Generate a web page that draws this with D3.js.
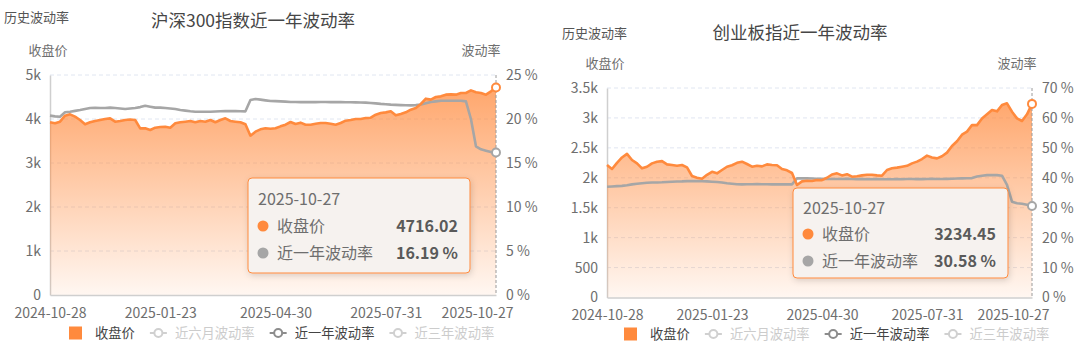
<!DOCTYPE html>
<html lang="zh">
<head>
<meta charset="UTF-8">
<title>历史波动率</title>
<style>
  body { margin: 0; background: #fff; }
  text { font-family: "Noto Sans CJK SC", "Noto Sans", sans-serif; }
</style>
</head>
<body>
<script src="https://d3js.org/d3.v7.min.js"></script>
<div id="chart"></div>
<script>
// x axis labels (both charts)
const tickLabels = ['2024-10-28', '2025-01-23', '2025-04-30', '2025-07-31', '2025-10-27']
const legendNames = ['收盘价', '近六月波动率', '近一年波动率', '近三年波动率']

// 沪深300 收盘价 / 近一年波动率 (%)
const hs300Close = [3925, 3902, 3939, 4075, 4106, 4053, 3977, 3879, 3925, 3955,
  3977, 4000, 4015, 3939, 3955, 3977, 3990, 3977, 3788, 3788,
  3750, 3803, 3818, 3825, 3803, 3902, 3925, 3939, 3955, 3925,
  3955, 3939, 3977, 3925, 3977, 4015, 3955, 3939, 3925, 3879,
  3621, 3712, 3765, 3788, 3780, 3788, 3833, 3871, 3932, 3886,
  3917, 3871, 3871, 3894, 3909, 3909, 3894, 3871, 3909, 3962,
  3977, 4000, 4000, 4023, 4030, 4098, 4136, 4151, 4174, 4083,
  4113, 4151, 4212, 4250, 4341, 4462, 4440, 4500, 4515, 4553,
  4560, 4553, 4591, 4591, 4650, 4606, 4590, 4553, 4629, 4716.02]
const hs300Vol = [20.38, 20.30, 20.26, 20.76, 20.83, 20.92, 21.02, 21.14, 21.25, 21.27,
  21.25, 21.25, 21.29, 21.25, 21.20, 21.14, 21.20, 21.25, 21.35, 21.51,
  21.40, 21.29, 21.29, 21.25, 21.20, 21.14, 21.02, 20.95, 20.88, 20.83,
  20.83, 20.83, 20.83, 20.86, 20.88, 20.90, 20.90, 20.90, 20.88, 20.87,
  22.16, 22.27, 22.20, 22.12, 22.05, 22.03, 22.00, 21.97, 21.93, 21.93,
  21.92, 21.93, 21.92, 21.92, 21.93, 21.93, 21.92, 21.93, 21.92, 21.90,
  21.90, 21.89, 21.88, 21.86, 21.82, 21.78, 21.72, 21.68, 21.63, 21.60,
  21.58, 21.56, 21.55, 21.58, 21.65, 21.80, 21.93, 22.00, 22.08, 22.08,
  22.08, 22.08, 22.08, 22.00, 20.00, 16.90, 16.55, 16.40, 16.24, 16.19]

// 创业板指 收盘价 / 近一年波动率 (%)
const cybClose = [2213, 2147, 2250, 2340, 2400, 2297, 2241, 2158, 2185, 2241,
  2269, 2278, 2224, 2213, 2202, 2213, 2174, 2030, 2002, 1985,
  2050, 2100, 2074, 2130, 2185, 2210, 2250, 2269, 2230, 2185,
  2200, 2190, 2224, 2213, 2210, 2147, 2125, 2080, 1880, 1940,
  1950, 1946, 1963, 1960, 2000, 2055, 2074, 2040, 2060, 2018,
  2025, 2040, 2050, 2050, 2040, 2035, 2130, 2158, 2170, 2185,
  2200, 2241, 2270, 2313, 2370, 2340, 2324, 2360, 2420, 2530,
  2610, 2720, 2771, 2882, 2880, 2990, 3060, 3132, 3110, 3216,
  3244, 3104, 2993, 2949, 3060, 3234.45]
const cybVol = [37.00, 37.10, 37.20, 37.30, 37.50, 37.80, 38.00, 38.20, 38.36, 38.40,
  38.45, 38.50, 38.60, 38.70, 38.75, 38.80, 38.90, 38.90, 38.90, 38.85,
  38.80, 38.70, 38.60, 38.40, 38.15, 38.00, 37.85, 37.80, 37.82, 37.85,
  37.88, 37.85, 37.82, 37.80, 37.80, 37.82, 37.80, 37.80, 39.80, 39.80,
  39.80, 39.75, 39.70, 39.65, 39.60, 39.60, 39.58, 39.60, 39.62, 39.60,
  39.55, 39.55, 39.50, 39.50, 39.55, 39.52, 39.50, 39.50, 39.55, 39.52,
  39.60, 39.58, 39.55, 39.55, 39.60, 39.62, 39.60, 39.60, 39.65, 39.70,
  39.75, 39.80, 39.85, 39.90, 40.40, 40.70, 40.90, 40.90, 40.90, 40.70,
  37.60, 32.00, 31.50, 31.30, 31.00, 30.58]

const ORANGE = '#ff8a3d'
const GREY = '#a6a6a6'
const TEXT = '#6e6e6e'

const svg = d3.select('#chart').append('svg')
  .attr('width', 1080).attr('height', 355)

const defs = svg.append('defs')
defs.append('filter').attr('id', 'shadow')
  .attr('x', '-10%').attr('y', '-10%').attr('width', '130%').attr('height', '140%')
  .append('feDropShadow')
  .attr('dx', 1).attr('dy', 2).attr('stdDeviation', 3)
  .attr('flood-color', '#000').attr('flood-opacity', 0.15)

const kFmt = v => v === 0 ? '0' : (v < 1000 ? String(v) : (v / 1000) + 'k')

function drawChart(c) {
  const g = svg.append('g')

  const x = d3.scaleLinear().domain([0, c.close.length - 1]).range([c.left, c.right])
  const yP = d3.scaleLinear().domain([0, c.priceMax]).range([c.bottom, c.top])
  const yV = d3.scaleLinear().domain([0, c.volMax]).range([c.bottom, c.top])

  const grad = defs.append('linearGradient').attr('id', c.id + 'grad')
    .attr('gradientUnits', 'userSpaceOnUse')
    .attr('x1', 0).attr('x2', 0).attr('y1', c.top).attr('y2', c.bottom)
  grad.append('stop').attr('offset', 0).attr('stop-color', '#ff8a3d').attr('stop-opacity', 0.8)
  grad.append('stop').attr('offset', 1).attr('stop-color', '#ff8a3d').attr('stop-opacity', 0.07)

  // header texts
  g.append('text').attr('x', c.histX).attr('y', c.histY).attr('dy', '0.35em')
    .attr('font-size', 13).attr('fill', '#555').text('历史波动率')
  g.append('text').attr('x', c.titleX).attr('y', c.titleY).attr('dy', '0.35em')
    .attr('text-anchor', 'middle').attr('font-size', 17.5).attr('fill', '#464646').text(c.title)
  g.append('text').attr('x', c.left - 2).attr('y', c.nameY).attr('dy', '0.35em')
    .attr('text-anchor', 'middle').attr('font-size', 13).attr('fill', TEXT).text('收盘价')
  g.append('text').attr('x', c.right - 15).attr('y', c.nameY).attr('dy', '0.35em')
    .attr('text-anchor', 'middle').attr('font-size', 13).attr('fill', TEXT).text('波动率')

  // grid
  const pTicks = d3.range(0, c.priceMax + 1, c.priceStep)
  g.append('g').selectAll('line').data(pTicks.slice(1)).join('line')
    .attr('x1', c.left).attr('x2', c.right)
    .attr('y1', d => yP(d)).attr('y2', d => yP(d))
    .attr('stroke', '#e0e6f1').attr('stroke-dasharray', '4,3')

  // left axis
  const yAxisL = g.append('g').attr('transform', `translate(${c.left},0)`)
    .call(d3.axisLeft(yP).tickValues(pTicks).tickFormat(kFmt).tickSize(0).tickPadding(9))
  yAxisL.select('.domain').attr('stroke', '#cfcfcf').attr('stroke-width', 1.5)
  yAxisL.selectAll('text').attr('font-size', 14).attr('fill', TEXT)

  // right axis
  const vTicks = d3.range(0, c.volMax + 0.001, c.volStep)
  const yAxisR = g.append('g').attr('transform', `translate(${c.right},0)`)
    .call(d3.axisRight(yV).tickValues(vTicks).tickFormat(d => d + ' %').tickSize(0).tickPadding(10))
  yAxisR.select('.domain').remove()
  yAxisR.selectAll('text').attr('font-size', 14).attr('fill', TEXT)

  // area
  g.append('path').datum(c.close)
    .attr('d', d3.area().x((d, i) => x(i)).y0(yP(0)).y1(d => yP(d)))
    .attr('fill', `url(#${c.id}grad)`)

  // bottom axis
  const n = c.close.length - 1
  const tickIdx = tickLabels.map((t, i) => Math.round(i * n / (tickLabels.length - 1)))
  const xAxis = g.append('g').attr('transform', `translate(0,${c.bottom})`)
    .call(d3.axisBottom(x).tickValues(tickIdx).tickFormat((d, i) => tickLabels[i]).tickSize(0).tickPadding(13))
  xAxis.select('.domain').attr('stroke', '#cfcfcf').attr('stroke-width', 1.5)
  xAxis.selectAll('text').attr('font-size', 14).attr('fill', TEXT)
  xAxis.selectAll('.tick:last-of-type text').attr('text-anchor', 'end').attr('dx', 17)

  // axis pointer at last day
  g.append('line').attr('x1', x(n)).attr('x2', x(n)).attr('y1', c.top).attr('y2', c.bottom)
    .attr('stroke', '#9a9a9a').attr('stroke-dasharray', '3,2')

  g.append('path').datum(c.vol)
    .attr('d', d3.line().x((d, i) => x(i)).y(d => yV(d)))
    .attr('fill', 'none').attr('stroke', GREY).attr('stroke-width', 2.6).attr('stroke-linejoin', 'round')
  g.append('path').datum(c.close)
    .attr('d', d3.line().x((d, i) => x(i)).y(d => yP(d)))
    .attr('fill', 'none').attr('stroke', ORANGE).attr('stroke-width', 2.6).attr('stroke-linejoin', 'round')

  g.append('circle').attr('cx', x(n)).attr('cy', yP(c.close[n])).attr('r', 4)
    .attr('fill', '#fff').attr('stroke', ORANGE).attr('stroke-width', 2)
  g.append('circle').attr('cx', x(n)).attr('cy', yV(c.vol[n])).attr('r', 4)
    .attr('fill', '#fff').attr('stroke', GREY).attr('stroke-width', 2)

  // tooltip
  const t = c.tip
  const tip = g.append('g').attr('transform', `translate(${t.x},${t.y})`)
  tip.append('rect').attr('width', t.w).attr('height', t.h).attr('rx', 4)
    .attr('fill', '#f6f2ef').attr('stroke', ORANGE).attr('stroke-width', 1)
    .attr('filter', 'url(#shadow)')
  tip.append('text').attr('x', 10).attr('y', t.dateY).attr('dy', '0.35em')
    .attr('font-size', 16).attr('fill', TEXT).text(tickLabels[tickLabels.length - 1])
  const rows = [
    { name: '收盘价', color: ORANGE, val: c.close[n].toFixed(2), y: t.row1 },
    { name: '近一年波动率', color: GREY, val: c.vol[n].toFixed(2) + ' %', y: t.row2 }
  ]
  rows.forEach(r => {
    tip.append('circle').attr('cx', 15).attr('cy', r.y).attr('r', 5.5).attr('fill', r.color)
    tip.append('text').attr('x', 29).attr('y', r.y).attr('dy', '0.35em')
      .attr('font-size', 16).attr('fill', TEXT).text(r.name)
    tip.append('text').attr('x', t.w - 12).attr('y', r.y).attr('dy', '0.35em')
      .attr('text-anchor', 'end').attr('font-size', 16).attr('font-weight', 'bold')
      .attr('fill', '#5a5a5a').text(r.val)
  })

  // legend
  const lg = g.append('g').attr('transform', `translate(${c.legendX},${c.legendY})`)
  let cx = 0
  legendNames.forEach((name, i) => {
    const active = i === 0 || i === 2
    if (i === 0) {
      lg.append('rect').attr('x', cx).attr('y', -6.5).attr('width', 13).attr('height', 13).attr('fill', ORANGE)
      cx += 26
    } else {
      const col = active ? '#8c8c8c' : '#d0d0d0'
      lg.append('line').attr('x1', cx).attr('x2', cx + 17).attr('y1', 0).attr('y2', 0)
        .attr('stroke', col).attr('stroke-width', 2)
      lg.append('circle').attr('cx', cx + 8.5).attr('cy', 0).attr('r', 4)
        .attr('fill', '#fff').attr('stroke', col).attr('stroke-width', 2)
      cx += 25
    }
    const txt = lg.append('text').attr('x', cx).attr('y', 0).attr('dy', '0.35em')
      .attr('font-size', 13.3).attr('fill', active ? '#444' : '#cccccc').text(name)
    cx += txt.node().getComputedTextLength() + 15
  })
}

drawChart({
  id: 'hs', close: hs300Close, vol: hs300Vol,
  left: 50, right: 496, top: 75, bottom: 295,
  priceMax: 5000, priceStep: 1000, volMax: 25, volStep: 5,
  title: '沪深300指数近一年波动率', titleX: 253, titleY: 21,
  histX: 4, histY: 17, nameY: 50,
  tip: { x: 248, y: 178, w: 222, h: 95, dateY: 21, row1: 48, row2: 75 },
  legendX: 69, legendY: 333
})

drawChart({
  id: 'cyb', close: cybClose, vol: cybVol,
  left: 607, right: 1032, top: 88, bottom: 297.5,
  priceMax: 3500, priceStep: 500, volMax: 70, volStep: 10,
  title: '创业板指近一年波动率', titleX: 800, titleY: 33,
  histX: 562, histY: 33, nameY: 63,
  tip: { x: 793, y: 188, w: 215, h: 90, dateY: 20, row1: 46, row2: 73 },
  legendX: 624, legendY: 334
})
</script>
</body>
</html>
